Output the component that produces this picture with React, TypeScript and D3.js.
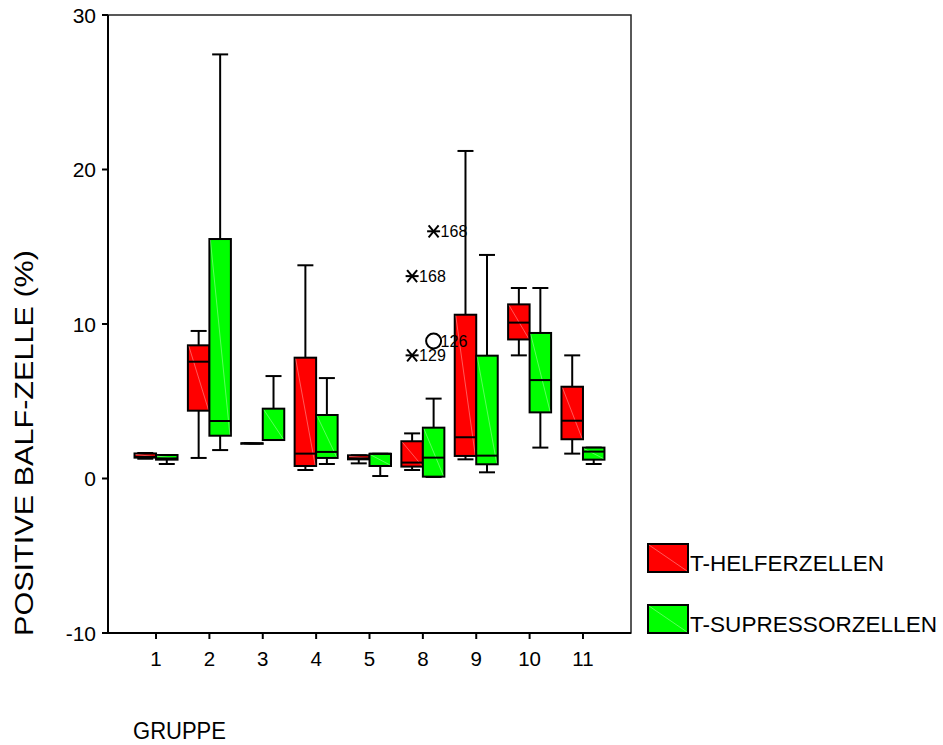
import React from "react";
import * as d3 from "d3";

// groups on the x axis
const groups = ["1", "2", "3", "4", "5", "8", "9", "10", "11"];
const yTicks = [-10, 0, 10, 20, 30];

// box stats per group: [lowWhisker, q1, median, q3, highWhisker]
const helferStats = [
  [1.28, 1.35, 1.4, 1.62, 1.65],
  [1.33, 4.39, 7.56, 8.62, 9.55],
  [2.28, 2.28, 2.28, 2.28, 2.28],
  [0.55, 0.81, 1.61, 7.82, 13.8],
  [0.98, 1.24, 1.3, 1.5, 1.5],
  [0.55, 0.77, 1.03, 2.41, 2.92],
  [1.24, 1.46, 2.67, 10.6, 21.2],
  [7.97, 9.0, 10.09, 11.27, 12.33],
  [1.61, 2.54, 3.74, 5.94, 7.97],
];
const supressorStats = [
  [0.94, 1.22, 1.3, 1.52, 1.52],
  [1.84, 2.77, 3.72, 15.5, 27.45],
  [2.49, 2.49, 2.49, 4.52, 6.63],
  [0.94, 1.33, 1.72, 4.11, 6.5],
  [0.16, 0.81, 1.6, 1.6, 1.6],
  [0.1, 0.12, 1.35, 3.29, 5.17],
  [0.4, 0.92, 1.48, 7.95, 14.47],
  [2.0, 4.28, 6.37, 9.42, 12.33],
  [0.94, 1.22, 1.74, 2.0, 2.0],
];

// outliers: group, series, value, case id, kind
const outliers = [
  { group: "8", series: 0, value: 13.1, id: "168", kind: "extreme" },
  { group: "8", series: 0, value: 7.97, id: "129", kind: "extreme" },
  { group: "8", series: 1, value: 16.0, id: "168", kind: "extreme" },
  { group: "8", series: 1, value: 8.9, id: "126", kind: "outlier" },
];

const seriesNames = ["T-HELFERZELLEN", "T-SUPRESSORZELLEN"];
const seriesColors = ["#ff0000", "#00ff00"];

const font = "'Liberation Sans', Arial, sans-serif";

export default function App() {
  const width = 943;
  const height = 745;
  const left = 108;
  const right = 631;
  const top = 15;
  const bottom = 633;

  const y = d3.scaleLinear().domain([-10, 30]).range([bottom, top]);
  const x = d3.scalePoint().domain(groups).range([left, right]).padding(0.9);
  const bw = 21.5;
  const cap = 16;

  const allStats = [helferStats, supressorStats];

  const boxCenter = (g: string, s: number) =>
    (x(g) as number) + (s === 0 ? -bw / 2 : bw / 2);

  // legend rows
  const legendY = [544, 605];
  const legendLen = [194, 247];

  return (
    <svg width={width} height={height} style={{ display: "block", position: "absolute", left: 0, top: 0 }}>
      <rect width={width} height={height} fill="#fff" />

      {/* frame */}
      <rect x={left} y={top} width={right - left} height={bottom - top} fill="none" stroke="#222" strokeWidth={1.5} />
      <line x1={left} x2={left} y1={top} y2={bottom + 1} stroke="#000" strokeWidth={2} />
      <line x1={left - 1} x2={right} y1={bottom} y2={bottom} stroke="#000" strokeWidth={2} />

      {/* y axis */}
      {yTicks.map((t) => (
        <g key={t}>
          <line x1={left - 6} x2={left} y1={y(t)} y2={y(t)} stroke="#000" strokeWidth={2} />
          <text x={left - 12} y={y(t) + 7.5} textAnchor="end" fontFamily={font} fontSize={21}>
            {t}
          </text>
        </g>
      ))}

      {/* x axis */}
      {groups.map((g) => (
        <g key={g}>
          <line x1={x(g)} x2={x(g)} y1={bottom} y2={bottom + 6} stroke="#000" strokeWidth={2} />
          <text x={x(g)} y={666} textAnchor="middle" fontFamily={font} fontSize={20.5}>
            {g}
          </text>
        </g>
      ))}

      {/* boxes */}
      {allStats.map((stats, s) =>
        groups.map((g, i) => {
          const [lo, q1, med, q3, hi] = stats[i];
          const cx = boxCenter(g, s);
          const x0 = cx - bw / 2;
          const x1 = cx + bw / 2;
          return (
            <g key={`${s}-${g}`}>
              <line x1={cx} x2={cx} y1={y(hi)} y2={y(q3)} stroke="#000" strokeWidth={2} />
              <line x1={cx} x2={cx} y1={y(q1)} y2={y(lo)} stroke="#000" strokeWidth={2} />
              <line x1={cx - cap / 2} x2={cx + cap / 2} y1={y(hi)} y2={y(hi)} stroke="#000" strokeWidth={2} />
              <line x1={cx - cap / 2} x2={cx + cap / 2} y1={y(lo)} y2={y(lo)} stroke="#000" strokeWidth={2} />
              <rect x={x0} y={y(q3)} width={bw} height={Math.max(0.5, y(q1) - y(q3))} fill={seriesColors[s]} stroke="#000" strokeWidth={2} />
              <line x1={x0 + 1} y1={y(q3) + 1} x2={x1 - 1} y2={y(q1) - 1} stroke="#fff" strokeOpacity={0.35} strokeWidth={1} />
              <line x1={x0} x2={x1} y1={y(med)} y2={y(med)} stroke="#000" strokeWidth={2} />
            </g>
          );
        })
      )}

      {/* outliers */}
      {outliers.map((o, i) => {
        const cx = boxCenter(o.group, o.series);
        const cy = y(o.value);
        return (
          <g key={i}>
            {o.kind === "extreme" ? (
              <g stroke="#000" strokeWidth={2}>
                <line x1={cx - 6.5} x2={cx + 6.5} y1={cy} y2={cy} />
                <line x1={cx - 5} x2={cx + 5} y1={cy - 6} y2={cy + 6} />
                <line x1={cx - 5} x2={cx + 5} y1={cy + 6} y2={cy - 6} />
              </g>
            ) : (
              <circle cx={cx} cy={cy} r={7.5} fill="none" stroke="#000" strokeWidth={2} />
            )}
            <text x={cx + 7} y={cy + 6} fontFamily={font} fontSize={16}>
              {o.id}
            </text>
          </g>
        );
      })}

      {/* legend */}
      {seriesNames.map((n, i) => {
        const ly = legendY[i];
        return (
          <g key={n}>
            <rect x={648} y={ly} width={40} height={28} fill={seriesColors[i]} stroke="#000" strokeWidth={2} />
            <line x1={649} y1={ly + 1} x2={687} y2={ly + 27} stroke="#fff" strokeOpacity={0.35} strokeWidth={1} />
            <text
              x={690}
              y={ly + 27}
              fontFamily={font}
              fontSize={22}
              textLength={legendLen[i]}
              lengthAdjust="spacingAndGlyphs"
            >
              {n}
            </text>
          </g>
        );
      })}

      {/* axis titles */}
      <text
        transform="translate(33,443) rotate(-90)"
        textAnchor="middle"
        fontFamily={font}
        fontSize={25}
        textLength={386}
        lengthAdjust="spacingAndGlyphs"
      >
        POSITIVE BALF-ZELLE (%)
      </text>
      <text x={133} y={739} fontFamily={font} fontSize={23} textLength={93} lengthAdjust="spacingAndGlyphs">
        GRUPPE
      </text>
    </svg>
  );
}
